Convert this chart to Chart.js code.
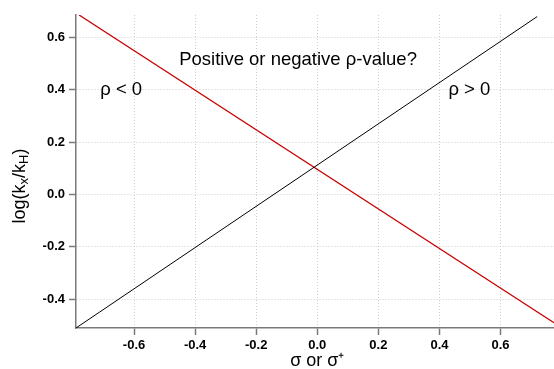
<!DOCTYPE html>
<html lang="en">
  <head>
    <meta charset="UTF-8" />
    <title>Hammett plot</title>
    <script src="https://cdn.jsdelivr.net/npm/chart.js"></script>
    <style>
      body {
        margin: 0;
        padding: 0;
        background: #fff;
      }
      #chart {
        display: block;
      }
    </style>
  </head>
  <body>
    <canvas id="chart" width="554" height="369"></canvas>
    <script>
      // values
      const positiveSigma = [-0.79, 0.72];
      const positiveLog = [-0.51, 0.68];
      const negativeSigma = [-0.78, 0.775];
      const negativeLog = [0.686, -0.49];

      const xTicks = [-0.6, -0.4, -0.2, 0.0, 0.2, 0.4, 0.6];
      const yTicks = [-0.4, -0.2, 0.0, 0.2, 0.4, 0.6];

      const labels = [
        { text: "Positive or negative \u03c1-value?", x: -0.063, y: 0.514 },
        { text: "\u03c1 < 0", x: -0.642, y: 0.4 },
        { text: "\u03c1 > 0", x: 0.498, y: 0.4 },
      ];

      const FONT = "'Liberation Sans', Arial, sans-serif";

      const toPoints = (xs, ys) => xs.map((x, i) => ({ x: x, y: ys[i] }));

      // text labels, axis titles with sub/superscripts
      const textPlugin = {
        id: "textPlugin",
        afterDraw(chart) {
          const ctx = chart.ctx;
          const xs = chart.scales.x;
          const ys = chart.scales.y;
          ctx.save();
          ctx.fillStyle = "#000";
          ctx.font = "18.5px " + FONT;
          ctx.textAlign = "center";
          ctx.textBaseline = "middle";
          labels.forEach((l) => {
            ctx.fillText(l.text, xs.getPixelForValue(l.x), ys.getPixelForValue(l.y));
          });

          // x title
          ctx.font = "18px " + FONT;
          ctx.fillText("\u03c3 or \u03c3\u207a", xs.getPixelForValue(0), 361);

          // y title: log(kx/kH)
          ctx.translate(20, 186);
          ctx.rotate(-Math.PI / 2);
          const parts = [
            ["log(k", 18, 0],
            ["x", 13, 4],
            ["/k", 18, 0],
            ["H", 13, 4],
            [")", 18, 0],
          ];
          let total = 0;
          parts.forEach((p) => {
            ctx.font = p[1] + "px " + FONT;
            total += ctx.measureText(p[0]).width;
          });
          let cx = -total / 2;
          ctx.textAlign = "left";
          parts.forEach((p) => {
            ctx.font = p[1] + "px " + FONT;
            ctx.fillText(p[0], cx, p[2]);
            cx += ctx.measureText(p[0]).width;
          });
          ctx.restore();
        },
      };

      const axisStyle = {
        border: { display: true, color: "#7a7a7a", width: 1.5, dash: [1, 2] },
        grid: {
          color: "#cfcfcf",
          lineWidth: 1,
          tickLength: 7,
          tickColor: "#7a7a7a",
          tickWidth: 1.5,
          tickBorderDash: [],
        },
      };

      new Chart(document.getElementById("chart"), {
        type: "scatter",
        data: {
          datasets: [
            {
              label: "rho > 0",
              data: toPoints(positiveSigma, positiveLog),
              showLine: true,
              borderColor: "#000",
              borderWidth: 1,
              pointRadius: 0,
            },
            {
              label: "rho < 0",
              data: toPoints(negativeSigma, negativeLog),
              showLine: true,
              borderColor: "#c80000",
              borderWidth: 1.3,
              pointRadius: 0,
            },
          ],
        },
        options: {
          responsive: false,
          animation: false,
          layout: { padding: { top: 15, right: 0, left: 0, bottom: 0 } },
          plugins: {
            legend: { display: false },
            tooltip: { enabled: false },
          },
          scales: {
            x: {
              type: "linear",
              min: -0.79,
              max: 0.775,
              border: axisStyle.border,
              grid: axisStyle.grid,
              afterBuildTicks: (s) => {
                s.ticks = xTicks.map((v) => ({ value: v }));
              },
              afterFit: (s) => {
                s.height = 41;
              },
              ticks: {
                padding: 3,
                color: "#000",
                font: { family: FONT, size: 13, weight: "bold" },
                callback: (v) => v.toFixed(1),
              },
            },
            y: {
              type: "linear",
              min: -0.51,
              max: 0.686,
              border: axisStyle.border,
              grid: axisStyle.grid,
              afterBuildTicks: (s) => {
                s.ticks = yTicks.map((v) => ({ value: v }));
              },
              afterFit: (s) => {
                s.width = 76;
              },
              ticks: {
                padding: 4,
                color: "#000",
                font: { family: FONT, size: 13, weight: "bold" },
                callback: (v) => v.toFixed(1),
              },
            },
          },
        },
        plugins: [textPlugin],
      });
    </script>
  </body>
</html>
